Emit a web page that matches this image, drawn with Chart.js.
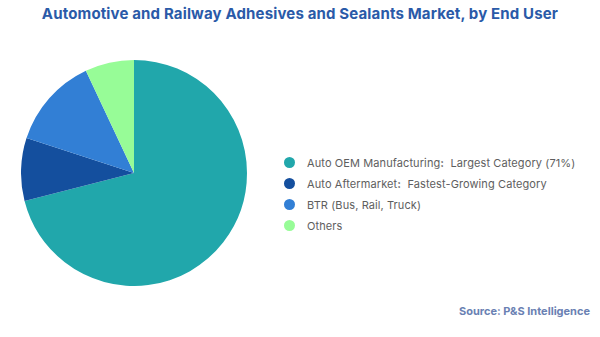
<!DOCTYPE html>
<html>
<head>
<meta charset="utf-8">
<script src="https://cdn.jsdelivr.net/npm/chart.js@4"></script>
<style>
  body { margin:0; width:600px; height:337px; background:#fff; position:relative; overflow:hidden; font-family:Inter, "Open Sans", sans-serif; }
  #title { position:absolute; top:4px; left:0; width:600px; text-align:center; font-size:15px; font-weight:700; color:#2a5aa8; letter-spacing:0.15px; }
  #pieWrap { position:absolute; left:21px; top:60px; width:226px; height:226px; }
  #legend { position:absolute; left:284px; top:154px; font-size:11px; color:#5e5e5e; letter-spacing:0.1px; }
  #legend .row { height:21px; line-height:18px; white-space:nowrap; }
  #legend .dot { display:inline-block; width:11px; height:11px; border-radius:50%; vertical-align:-1px; margin-right:12px; }
  #legend b { font-weight:700; }
  #source { position:absolute; right:10px; top:304px; font-size:11px; font-weight:700; color:#6a81b3; }
</style>
</head>
<body>
<div id="title">Automotive and Railway Adhesives and Sealants Market, by End User</div>
<div id="pieWrap"><canvas id="pie"></canvas></div>
<div id="legend"></div>
<div id="source">Source: P&amp;S Intelligence</div>
<script>
var segments = ["Auto OEM Manufacturing", "Auto Aftermarket", "BTR (Bus, Rail, Truck)", "Others"];
var notes    = ["Largest Category (71%)", "Fastest-Growing Category", "", ""];
var shares   = [71, 9, 13, 7];
var colors   = ["#21a7ab", "#144f9e", "#327fd5", "#97fc97"];

$legend = document.getElementById("legend");
segments.forEach(function(name, i) {
	var row = document.createElement("div");
	row.className = "row";
	var html = '<span class="dot" style="background:' + colors[i] + '"></span>' + name;
	if (notes[i] != "") {
		html += '<b>:</b>&nbsp; ' + notes[i];
	}
	row.innerHTML = html;
	$legend.appendChild(row);
});

var ctx = document.getElementById("pie").getContext("2d");
var pieChart = new Chart(ctx, {
	type: "pie",
	data: {
		labels: segments,
		datasets: [{
			data: shares,
			backgroundColor: colors,
			borderWidth: 0
		}]
	},
	options: {
		responsive: true,
		maintainAspectRatio: false,
		animation: false,
		layout: { padding: 0 },
		plugins: {
			legend: { display: false },
			tooltip: { enabled: false }
		}
	}
});
</script>
</body>
</html>
